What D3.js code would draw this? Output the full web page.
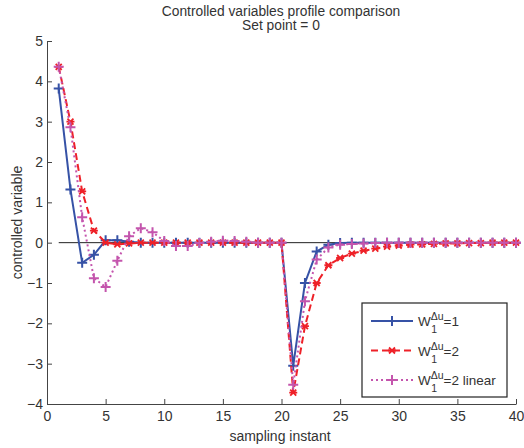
<!DOCTYPE html>
<html>
<head>
<meta charset="utf-8">
<script src="https://cdn.jsdelivr.net/npm/d3@7.9.0/dist/d3.min.js"></script>
<style>
  body { margin: 0; background: #fff; }
  text { font-family: "Liberation Sans", Arial, sans-serif; fill: #333; }
</style>
</head>
<body>
<div id="chart"></div>
<script>
// sampling instants 1..40
const instants = d3.range(1, 41);

// W1 = 1
const cvW1 = [3.82, 1.32, -0.5, -0.3, 0.06, 0.06, 0.02, 0, 0, 0,
  0, 0, 0, 0, 0, 0, 0, 0, 0, 0,
  -3.05, -1.0, -0.22, -0.05, -0.01, 0, 0, 0, 0, 0,
  0, 0, 0, 0, 0, 0, 0, 0, 0, 0];

// W1 = 2
const cvW2 = [4.36, 3.0, 1.27, 0.3, 0.0, -0.04, -0.02, 0, 0, 0,
  0, 0, 0, 0, 0, 0, 0, 0, 0, 0,
  -3.72, -2.07, -1.0, -0.56, -0.38, -0.27, -0.2, -0.15, -0.1, -0.07,
  -0.05, -0.04, -0.03, -0.02, -0.02, -0.01, -0.01, 0, 0, 0];

// W1 = 2 linear
const cvW2lin = [4.36, 2.86, 0.63, -0.88, -1.1, -0.45, 0.16, 0.36, 0.26, 0.04,
  -0.08, -0.08, -0.01, 0.02, 0.05, 0.04, 0.02, 0, 0, 0,
  -3.52, -1.45, -0.42, -0.12, -0.05, -0.03, -0.02, -0.01, 0, 0,
  0, 0, 0, 0, 0, 0, 0, 0, 0, 0];

const xTicks = [0, 5, 10, 15, 20, 25, 30, 35, 40];
const yTicks = [-4, -3, -2, -1, 0, 1, 2, 3, 4, 5];

const width = 524;
const height = 448;

const svg = d3.select('#chart').append('svg')
  .attr('width', width)
  .attr('height', height);

const x = d3.scaleLinear().domain([0, 40]).range([47, 516]);
const y = d3.scaleLinear().domain([-4, 5]).range([404, 41]);

// titles
svg.append('text').attr('x', 281).attr('y', 16).attr('text-anchor', 'middle')
  .style('font-size', '13.8px').text('Controlled variables profile comparison');
svg.append('text').attr('x', 281).attr('y', 30).attr('text-anchor', 'middle')
  .style('font-size', '13.8px').text('Set point = 0');

// axes (box off, ticks inward)
const xAxis = svg.append('g').attr('transform', `translate(0,${y(-4)})`)
  .call(d3.axisBottom(x).tickValues(xTicks).tickSize(-5).tickPadding(7).tickSizeOuter(0));
const yAxis = svg.append('g').attr('transform', `translate(${x(0)},0)`)
  .call(d3.axisLeft(y).tickValues(yTicks).tickSize(-5).tickPadding(4).tickSizeOuter(0));
[xAxis, yAxis].forEach(g => {
  g.selectAll('path, line').attr('stroke', '#444');
  g.selectAll('text').style('font-size', '14px').attr('fill', '#333');
});

svg.append('text').attr('x', 280).attr('y', 441).attr('text-anchor', 'middle')
  .style('font-size', '14px').text('sampling instant');
svg.append('text').attr('transform', `translate(22,${y(0.5)}) rotate(-90)`)
  .attr('text-anchor', 'middle').style('font-size', '14px').text('controlled variable');

// set point line
svg.append('line')
  .attr('x1', x(1)).attr('x2', x(40)).attr('y1', y(0)).attr('y2', y(0))
  .attr('stroke', '#222').attr('stroke-width', 1);

const series = [
  { name: '=1', values: cvW1, color: '#3652a6', dash: null, marker: 'plus', width: 2 },
  { name: '=2', values: cvW2, color: '#ee2128', dash: '7,4', marker: 'star', width: 2 },
  { name: '=2 linear', values: cvW2lin, color: '#c455ad', dash: '2,3', marker: 'plus', width: 2 }
];

const line = d3.line().x(d => x(d[0])).y(d => y(d[1]));

function drawMarker(g, cx, cy, s) {
  if (s.marker === 'plus') {
    g.append('path').attr('d', `M${cx - 5},${cy}H${cx + 5}M${cx},${cy - 5}V${cy + 5}`)
      .attr('stroke', s.color).attr('stroke-width', 2).attr('fill', 'none');
  } else {
    g.append('path').attr('d', `M${cx - 3},${cy - 3}L${cx + 3},${cy + 3}M${cx - 3},${cy + 3}L${cx + 3},${cy - 3}M${cx - 4},${cy}H${cx + 4}`)
      .attr('stroke', s.color).attr('stroke-width', 1.8).attr('fill', 'none');
  }
}

series.forEach(s => {
  const pts = instants.map((t, i) => [t, s.values[i]]);
  const g = svg.append('g');
  g.append('path').datum(pts).attr('d', line)
    .attr('fill', 'none').attr('stroke', s.color).attr('stroke-width', s.width)
    .attr('stroke-dasharray', s.dash);
  pts.forEach(p => drawMarker(g, x(p[0]), y(p[1]), s));
});

// legend
const lg = svg.append('g');
lg.append('rect').attr('x', 362).attr('y', 303).attr('width', 145).attr('height', 94)
  .attr('fill', '#fff').attr('stroke', '#222').attr('stroke-width', 1.2);
series.forEach((s, i) => {
  const ly = 321 + i * 29.5;
  lg.append('line').attr('x1', 371).attr('x2', 413).attr('y1', ly).attr('y2', ly)
    .attr('stroke', s.color).attr('stroke-width', s.width).attr('stroke-dasharray', s.dash);
  drawMarker(lg, 392, ly, s);
  const w = lg.append('text').attr('x', 418).attr('y', ly + 5).style('font-size', '13.5px').text('W');
  const wx = 418 + w.node().getComputedTextLength();
  const sup = lg.append('text').attr('x', wx).attr('y', ly - 1).style('font-size', '10.5px').text('\u0394u');
  lg.append('text').attr('x', wx + 0.5).attr('y', ly + 12).style('font-size', '10.5px').text('1');
  const ex = wx + sup.node().getComputedTextLength();
  lg.append('text').attr('x', ex).attr('y', ly + 5).style('font-size', '13.5px').text(s.name);
});
</script>
</body>
</html>
